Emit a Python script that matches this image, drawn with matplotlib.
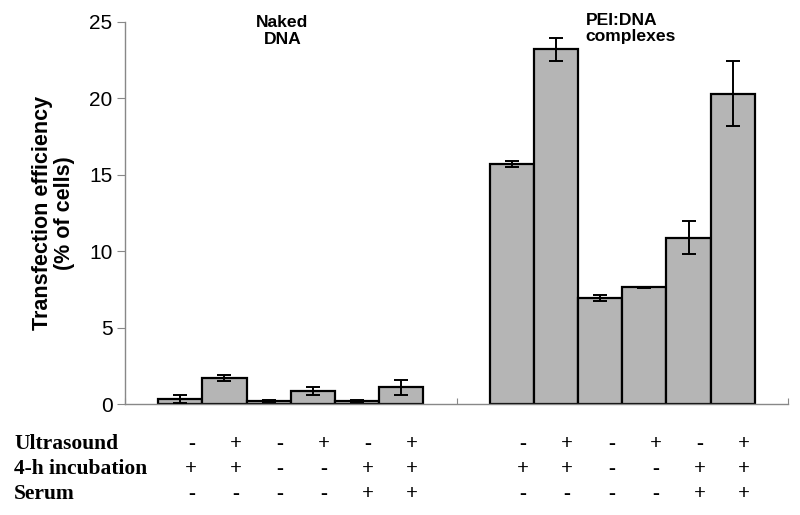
import numpy as np
import matplotlib
matplotlib.use('Agg')
import matplotlib.pyplot as plt

# data
groups = ["Naked\nDNA", "PEI:DNA\ncomplexes"]
naked_vals = [0.33, 1.72, 0.2, 0.87, 0.2, 1.09]
naked_err = [0.25, 0.2, 0.05, 0.27, 0.05, 0.51]
pei_vals = [15.7, 23.2, 6.95, 7.63, 10.87, 20.3]
pei_err = [0.2, 0.74, 0.2, 0.05, 1.07, 2.1]

row_labels = ["Ultrasound", "4-h incubation", "Serum"]
ultrasound = ["-", "+", "-", "+", "-", "+"]
incubation = ["+", "+", "-", "-", "+", "+"]
serum = ["-", "-", "-", "-", "+", "+"]

fig = plt.figure(figsize=(8, 5.15), dpi=100)
ax = fig.add_axes([125 / 800, 1 - 404 / 515, (788 - 125) / 800, (404 - 21.7) / 515])

n = len(naked_vals)
bw = 0.8 / n
pos_naked = 0.1 + bw * (np.arange(n) + 0.5)
pos_pei = 1.1 + bw * (np.arange(n) + 0.5)

for pos, vals, err in [(pos_naked, naked_vals, naked_err), (pos_pei, pei_vals, pei_err)]:
    ax.bar(pos, vals, width=bw, color="#b5b5b5", edgecolor="black", linewidth=1.6, zorder=2)
    ax.errorbar(pos, vals, yerr=err, fmt="none", ecolor="black", elinewidth=1.4,
                capsize=5, capthick=1.4, zorder=3)

ax.set_xlim(0, 2)
ax.set_ylim(0, 25)
ax.set_yticks([0, 5, 10, 15, 20, 25])
ax.set_xticks([0, 1, 2])
ax.set_xticklabels([])
ax.tick_params(axis="x", direction="in", length=4, color="#888888")
ax.tick_params(axis="y", direction="out", length=6, color="#888888", labelsize=15, pad=3)
for s in ["top", "right"]:
    ax.spines[s].set_visible(False)
for s in ["left", "bottom"]:
    ax.spines[s].set_color("#888888")
    ax.spines[s].set_linewidth(1.0)

ax.set_ylabel("Transfection efficiency\n(% of cells)", fontsize=15.5, fontweight="bold",
              family="Liberation Sans", linespacing=1.05, labelpad=10)
for lbl in ax.get_yticklabels():
    lbl.set_family("Liberation Sans")

ax.text(0.475, 24.4, groups[0], ha="center", va="center", fontsize=12.6, fontweight="bold",
        family="Liberation Sans", linespacing=1.15)
ax.text(1.39, 24.55, groups[1], ha="left", va="center", fontsize=12.6, fontweight="bold",
        family="Liberation Sans", linespacing=1.15)

# condition table below the axis
row_y = [444, 469, 494]
for r, (lab, signs) in enumerate(zip(row_labels, [ultrasound, incubation, serum])):
    yf = 1 - row_y[r] / 515
    fig.text(14 / 800, yf, lab, ha="left", va="center", fontsize=15.5, fontweight="bold",
             family="Liberation Serif")
    for pos in (pos_naked, pos_pei):
        for x, s in zip(pos, signs):
            xd = ax.transData.transform((x + bw * 0.25, 0))[0]
            fig.text(xd / fig.bbox.width, yf, s, ha="center", va="center", fontsize=15,
                     fontweight="bold", family="Liberation Serif")

fig.savefig("out.png", dpi=100)
